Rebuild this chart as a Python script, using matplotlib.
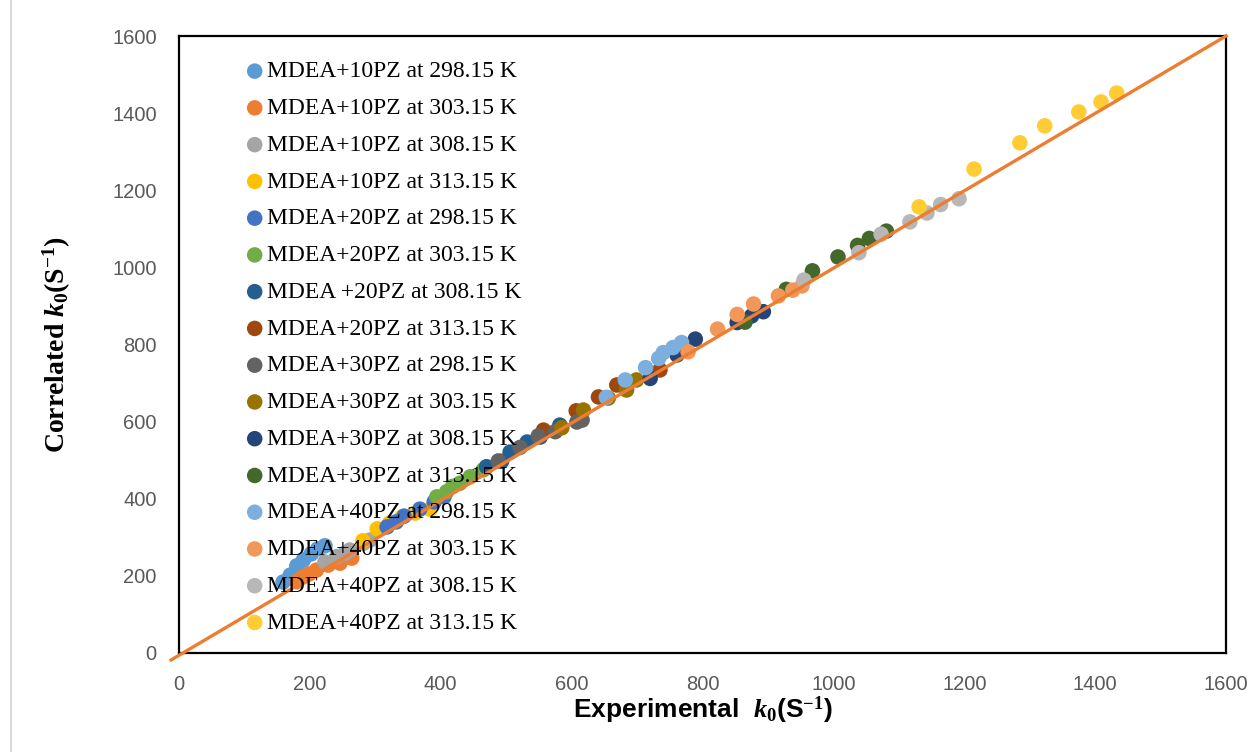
import matplotlib
matplotlib.use("Agg")
import matplotlib.pyplot as plt
from matplotlib.lines import Line2D

plt.rcParams['mathtext.fontset'] = 'custom'
plt.rcParams['mathtext.it'] = 'Liberation Serif:italic:bold'
plt.rcParams['mathtext.rm'] = 'Liberation Serif:bold'
plt.rcParams['mathtext.bf'] = 'Liberation Serif:bold'

labels = [
    "MDEA+10PZ at 298.15 K", "MDEA+10PZ at 303.15 K", "MDEA+10PZ at 308.15 K", "MDEA+10PZ at 313.15 K",
    "MDEA+20PZ at 298.15 K", "MDEA+20PZ at 303.15 K", "MDEA +20PZ at 308.15 K", "MDEA+20PZ at 313.15 K",
    "MDEA+30PZ at 298.15 K", "MDEA+30PZ at 303.15 K", "MDEA+30PZ at 308.15 K", "MDEA+30PZ at 313.15 K",
    "MDEA+40PZ at 298.15 K", "MDEA+40PZ at 303.15 K", "MDEA+40PZ at 308.15 K", "MDEA+40PZ at 313.15 K",
]
colors = ["#5B9BD5", "#ED7D31", "#A5A5A5", "#FFC000",
          "#4472C4", "#70AD47", "#255E91", "#9E480E",
          "#636363", "#997300", "#264478", "#43682B",
          "#7CAFDD", "#F1975A", "#B7B7B7", "#FFCD33"]

exp_10_298 = [159, 170, 180, 190, 202, 212, 223]
cor_10_298 = [184, 202, 226, 241, 257, 270, 278]
exp_10_303 = [180, 188, 199, 210, 228, 246, 264]
cor_10_303 = [185, 196, 205, 215, 228, 233, 246]
exp_10_308 = [223, 241, 254, 261, 282, 292]
cor_10_308 = [236, 250, 259, 267, 285, 293]
exp_10_313 = [281, 303, 322, 341, 361, 384]
cor_10_313 = [291, 322, 337, 353, 363, 373]
exp_20_298 = [318, 332, 344, 368, 390, 405]
cor_20_298 = [327, 340, 355, 373, 392, 405]
exp_20_303 = [394, 409, 418, 429, 445, 465]
cor_20_303 = [405, 418, 432, 440, 457, 475]
exp_20_308 = [470, 493, 506, 532, 552, 582]
cor_20_308 = [483, 497, 521, 547, 560, 591]
exp_20_313 = [557, 607, 641, 669, 735]
cor_20_313 = [578, 628, 664, 695, 734]
exp_30_298 = [488, 521, 549, 575, 608, 616]
cor_30_298 = [498, 533, 563, 574, 599, 604]
exp_30_303 = [585, 618, 656, 684, 699]
cor_30_303 = [584, 630, 661, 682, 708]
exp_30_308 = [720, 761, 789, 853, 875, 893]
cor_30_308 = [712, 773, 814, 857, 874, 885]
exp_30_313 = [865, 928, 968, 1007, 1037, 1055, 1081]
cor_30_313 = [858, 943, 991, 1027, 1057, 1075, 1094]
exp_40_298 = [653, 682, 713, 733, 740, 755, 768]
cor_40_298 = [663, 708, 740, 764, 779, 792, 805]
exp_40_303 = [778, 823, 853, 878, 916, 938, 952]
cor_40_303 = [781, 840, 878, 905, 926, 941, 952]
exp_40_308 = [955, 1039, 1073, 1117, 1143, 1164, 1192]
cor_40_308 = [967, 1038, 1086, 1118, 1141, 1163, 1178]
exp_40_313 = [1131, 1215, 1285, 1323, 1375, 1409, 1433]
cor_40_313 = [1157, 1255, 1323, 1367, 1403, 1429, 1452]

fit_x = [-12, 1600]
fit_y = [-18, 1600]

ticks = [0, 200, 400, 600, 800, 1000, 1200, 1400, 1600]

series = [
    (exp_10_298, cor_10_298), (exp_10_303, cor_10_303), (exp_10_308, cor_10_308), (exp_10_313, cor_10_313),
    (exp_20_298, cor_20_298), (exp_20_303, cor_20_303), (exp_20_308, cor_20_308), (exp_20_313, cor_20_313),
    (exp_30_298, cor_30_298), (exp_30_303, cor_30_303), (exp_30_308, cor_30_308), (exp_30_313, cor_30_313),
    (exp_40_298, cor_40_298), (exp_40_303, cor_40_303), (exp_40_308, cor_40_308), (exp_40_313, cor_40_313),
]

fig = plt.figure(figsize=(12.56, 7.52), dpi=100)
ax = fig.add_axes([179/1256, 1 - 653/752, (1226 - 179)/1256, (653 - 36)/752])

for (xs, ys), c, lab in zip(series, colors, labels):
    ax.scatter(xs, ys, s=125, color=c, edgecolors='none', label=lab, zorder=3, clip_on=False)

ax.plot(fit_x, fit_y, color="#ED7D31", lw=2.4, zorder=5, clip_on=False)

ax.set_xlim(0, 1600)
ax.set_ylim(0, 1600)
ax.set_xticks(ticks)
ax.set_yticks(ticks)
ax.tick_params(length=0, labelsize=14.5, labelcolor="#595959")
ax.tick_params(axis='x', pad=16)
ax.tick_params(axis='y', pad=16)
for lab in ax.get_xticklabels() + ax.get_yticklabels():
    lab.set_fontfamily('Liberation Sans')
for sp in ax.spines.values():
    sp.set_color('black')
    sp.set_linewidth(1.6)

ax.set_xlabel(r"Experimental  $k_0$(S$^{\mathrm{-1}}$)", fontsize=19, fontweight='bold',
              family='Liberation Sans', labelpad=0)
ax.set_ylabel(r"Correlated $k_0$(S$^{\mathrm{-1}}$)", fontsize=20, fontweight='bold',
              family='Liberation Serif', labelpad=28)

leg = ax.legend(loc='upper left', bbox_to_anchor=(237/1256, 1 - 49/752), bbox_transform=fig.transFigure,
                frameon=False, prop={'family': 'Liberation Serif', 'size': 17},
                handlelength=0.5, handletextpad=0.25, labelspacing=0.645, borderpad=0, markerscale=1.0)

fig.add_artist(Line2D([11/1256, 11/1256], [0, 1], transform=fig.transFigure, color="#D9D9D9", lw=1.5))

fig.savefig("out.png", dpi=100)
